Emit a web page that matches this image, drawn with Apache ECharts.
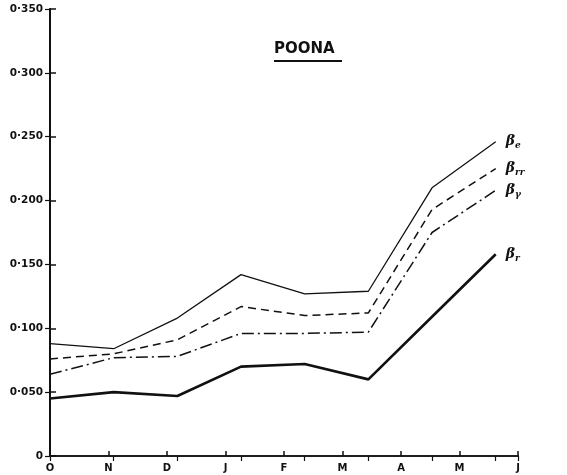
<!DOCTYPE html>
<html>
<head>
<meta charset="utf-8">
<script src="https://cdn.jsdelivr.net/npm/echarts@6/dist/echarts.min.js"></script>
<style>
  html, body { margin: 0; padding: 0; background: #fff; }
  #main { width: 567px; height: 475px; }
</style>
</head>
<body>
<div id="main"></div>
<script>
// month labels along the bottom axis
var months = ['O', 'N', 'D', 'J', 'F', 'M', 'A', 'M', 'J'];
// month index of each point
var pointMonths = [0, 1, 2, 3, 4, 5, 6, 7];
// turbidity coefficients
var betaE = [0.088, 0.084, 0.108, 0.142, 0.127, 0.129, 0.210, 0.246];
var betaRR = [0.076, 0.080, 0.091, 0.117, 0.110, 0.112, 0.193, 0.225];
var betaG = [0.064, 0.077, 0.078, 0.096, 0.096, 0.097, 0.175, 0.208];
var betaR = [0.045, 0.050, 0.047, 0.070, 0.072, 0.060, 0.109, 0.158];

var ink = '#111';

function pairs(vals) {
    return vals.map(function(v, i) { return [pointMonths[i], v]; });
}

function betaLabel(sub) {
    return {
        show: true,
        offset: [2, 0],
        formatter: '{b|β}{s|' + sub + '}',
        rich: {
            b: { fontFamily: 'DejaVu Serif', fontStyle: 'italic', fontWeight: 'bold', fontSize: 14, color: ink },
            s: { fontFamily: 'DejaVu Serif', fontStyle: 'italic', fontWeight: 'bold', fontSize: 9, color: ink, padding: [8, 0, 0, 0] }
        }
    };
}

function line(name, vals, style, sub) {
    return {
        name: name,
        type: 'line',
        xAxisIndex: 1,
        showSymbol: false,
        data: pairs(vals),
        lineStyle: style,
        endLabel: betaLabel(sub)
    };
}

var chart = echarts.init(document.getElementById('main'));
chart.setOption({
    animation: false,
    backgroundColor: '#fff',
    grid: { left: 50, right: 49, top: 9, bottom: 19 },
    graphic: [{
        type: 'text',
        left: 274,
        top: 42,
        style: { text: 'POONA', fontFamily: 'DejaVu Sans', fontWeight: 'bold', fontSize: 15, fill: ink }
    }, {
        type: 'rect',
        left: 274,
        top: 60,
        shape: { width: 68, height: 2 },
        style: { fill: ink }
    }],
    xAxis: [{
        type: 'value',
        position: 'bottom',
        min: 0,
        max: 8,
        interval: 1,
        splitLine: { show: false },
        axisLine: { lineStyle: { color: ink, width: 1.6 } },
        axisTick: { inside: true, length: 5, lineStyle: { color: ink, width: 1.5 } },
        axisLabel: {
            margin: 7,
            color: ink,
            fontFamily: 'DejaVu Sans',
            fontWeight: 'bold',
            fontSize: 10,
            formatter: function(v) { return months[v] || ''; }
        }
    }, {
        type: 'value',
        position: 'top',
        min: 0,
        max: 7.35,
        interval: 1,
        splitLine: { show: false },
        axisLine: { lineStyle: { color: ink, width: 1.6 } },
        axisTick: { inside: true, length: 5, lineStyle: { color: ink, width: 1.2 } },
        axisLabel: { show: false }
    }],
    yAxis: [{
        type: 'value',
        position: 'left',
        min: 0,
        max: 0.35,
        interval: 0.05,
        splitLine: { show: false },
        axisLine: { lineStyle: { color: ink, width: 2 } },
        axisTick: { inside: true, length: 6, lineStyle: { color: ink, width: 1.5 } },
        axisLabel: {
            margin: 7,
            color: ink,
            fontFamily: 'DejaVu Sans',
            fontWeight: 'bold',
            fontSize: 10.5,
            formatter: function(v) {
                return v === 0 ? '0' : v.toFixed(3).replace('.', '·');
            }
        }
    }, {
        type: 'value',
        position: 'right',
        min: 0,
        max: 0.35,
        interval: 0.05,
        splitLine: { show: false },
        axisLine: { lineStyle: { color: ink, width: 1.6 } },
        axisTick: { inside: true, length: 5, lineStyle: { color: ink, width: 1.2 } },
        axisLabel: { show: false }
    }],
    series: [
        line('βe', betaE, { color: ink, width: 1.3 }, 'e'),
        line('βrr', betaRR, { color: ink, width: 1.5, type: [8, 5] }, 'rr'),
        line('βγ', betaG, { color: ink, width: 1.5, type: [12, 4, 2, 4] }, 'γ'),
        line('βr', betaR, { color: ink, width: 2.6 }, 'r')
    ]
});
</script>
</body>
</html>
